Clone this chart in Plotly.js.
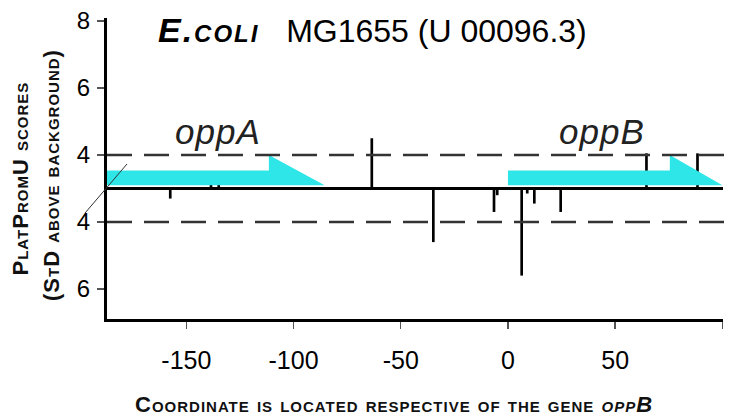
<!DOCTYPE html>
<html><head><meta charset="utf-8">
<script src="https://cdn.plot.ly/plotly-3.0.1.min.js"></script>
<style>html,body{margin:0;padding:0;background:#fff}#chart{width:742px;height:416px}</style>
</head><body><div id="chart"></div>
<script>
// ---- data ----
const topPositions = [-138.5, -134.9, -63.5, 64.6, 88.4];
const topScores = [3.15, 3.3, 4.5, 4.05, 4.05];
const bottomPositions = [-157.5, -34.8, -6.5, -5.0, 6.4, 9.0, 12.3, 24.6];
const bottomScores = [3.3, 4.6, 3.7, 3.2, 5.6, 3.15, 3.45, 3.7];
const geneNames = ['oppA', 'oppB'];
const geneStarts = [-187, 0];
const geneHeadStarts = [-111.5, 75.5];
const geneEnds = [-85.5, 100];
const threshold = 4;
const baselineScore = 3;
const topTickScores = [8, 6, 4];
const bottomTickScores = [4, 6];
const xTickVals = [-150, -100, -50, 0, 50, 100];

// mirrored score scale: top strand up, bottom strand down from the baseline
const up = s => s - baselineScore;
const down = s => -(s - baselineScore);

const CYAN = '#2ee6e8';
const bodyLow = 0.1, bodyHigh = 0.54;

const traces = [];
geneNames.forEach((g, i) => {
  const hs = geneHeadStarts[i];
  traces.push({
    type: 'scatter', mode: 'lines', name: g,
    x: [geneStarts[i], geneStarts[i], hs, hs, geneEnds[i], geneStarts[i]],
    y: [bodyLow, bodyHigh, bodyHigh, up(threshold), bodyLow, bodyLow],
    fill: 'toself', fillcolor: CYAN, line: {width: 0, color: CYAN},
    hoverinfo: 'skip', showlegend: false
  });
});
traces.push({
  type: 'bar', x: topPositions, y: topScores.map(up), width: 1.25,
  marker: {color: '#000', line: {width: 0}}, showlegend: false
});
traces.push({
  type: 'bar', x: bottomPositions, y: bottomScores.map(down), width: 1.25,
  marker: {color: '#000', line: {width: 0}}, showlegend: false
});

const yTickVals = topTickScores.map(up).concat(bottomTickScores.map(down));
const yTickText = topTickScores.map(String).concat(bottomTickScores.map(String));

const titleFont = {family: 'Liberation Sans, Arial, sans-serif', size: 22, color: '#111', weight: 'bold', variant: 'small-caps'};
const ls = t => '<span style="letter-spacing:1px">' + t + '</span>';
const tickFamily = 'Liberation Sans Narrow, Arial Narrow, Liberation Sans, Arial, sans-serif';

const layout = {
  width: 742, height: 416,
  margin: {l: 107, r: 19, t: 18, b: 97, pad: 0},
  paper_bgcolor: '#fff', plot_bgcolor: '#fff',
  barmode: 'overlay', showlegend: false,
  title: {
    text: '<b><i><span style="font-size:34px;letter-spacing:2px">E.coli</span></i></b>\u00a0\u00a0\u00a0MG1655 (U 00096.3)',
    x: 158 / 742, xanchor: 'left', xref: 'container',
    y: 1 - 31 / 416, yanchor: 'middle', yref: 'container',
    font: {family: 'Liberation Sans, Arial, sans-serif', size: 32, color: '#000', variant: 'small-caps'}
  },
  xaxis: {
    range: [-187, 100.3], showgrid: false, zeroline: false,
    showline: true, linewidth: 3, linecolor: '#000',
    ticks: 'outside', ticklen: 7, tickwidth: 1.5, tickcolor: '#555',
    tickvals: xTickVals, ticktext: xTickVals.map(String),
    ticklabelstandoff: 10,
    tickfont: {family: tickFamily, size: 25, color: '#000'},
    fixedrange: true
  },
  yaxis: {
    range: [-3.896, 5.09], showgrid: false,
    zeroline: true, zerolinewidth: 3, zerolinecolor: '#000',
    showline: true, linewidth: 3, linecolor: '#000',
    ticks: 'outside', ticklen: 7, tickwidth: 1.5, tickcolor: '#555',
    tickvals: yTickVals, ticktext: yTickText,
    ticklabelstandoff: 2,
    tickfont: {family: tickFamily, size: 24, color: '#000'},
    fixedrange: true
  },
  shapes: [
    {type: 'line', xref: 'paper', yref: 'y', x0: 0, x1: 1.006, y0: up(threshold), y1: up(threshold),
     line: {color: '#333', width: 2.5, dash: '25px,12px'}},
    {type: 'line', xref: 'paper', yref: 'y', x0: 0, x1: 1.006, y0: down(threshold), y1: down(threshold),
     line: {color: '#333', width: 2.5, dash: '25px,12px'}},
    {type: 'line', xref: 'paper', yref: 'paper', x0: -0.0357, y0: 0.352, x1: 0.0325, y1: 0.515,
     line: {color: '#333', width: 1}}
  ],
  annotations: [
    {text: ls('PlatPromU scores'), xref: 'paper', yref: 'paper', x: (20 - 107) / 616, y: (319 - 178.5) / 301,
     textangle: -90, showarrow: false, xanchor: 'center', yanchor: 'middle', font: titleFont},
    {text: ls('(StD above background)'), xref: 'paper', yref: 'paper', x: (51 - 107) / 616, y: (319 - 175) / 301,
     textangle: -90, showarrow: false, xanchor: 'center', yanchor: 'middle', font: titleFont},
    {text: ls('Coordinate is located respective of the gene <i>oppB</i>'), xref: 'paper', yref: 'paper',
     x: (393.5 - 107) / 616, y: (319 - 405) / 301, showarrow: false, xanchor: 'center', yanchor: 'middle', font: titleFont},
    {text: ls('<i>' + geneNames[0] + '</i>'), xref: 'x', yref: 'y', x: -135.1, y: 1.69, showarrow: false,
     xanchor: 'center', yanchor: 'middle', font: {family: 'Liberation Sans, Arial, sans-serif', size: 35, color: '#222'}},
    {text: ls('<i>' + geneNames[1] + '</i>'), xref: 'x', yref: 'y', x: 44, y: 1.69, showarrow: false,
     xanchor: 'center', yanchor: 'middle', font: {family: 'Liberation Sans, Arial, sans-serif', size: 35, color: '#222'}}
  ]
};

Plotly.newPlot('chart', traces, layout, {displayModeBar: false, staticPlot: true});
</script>
</body></html>
